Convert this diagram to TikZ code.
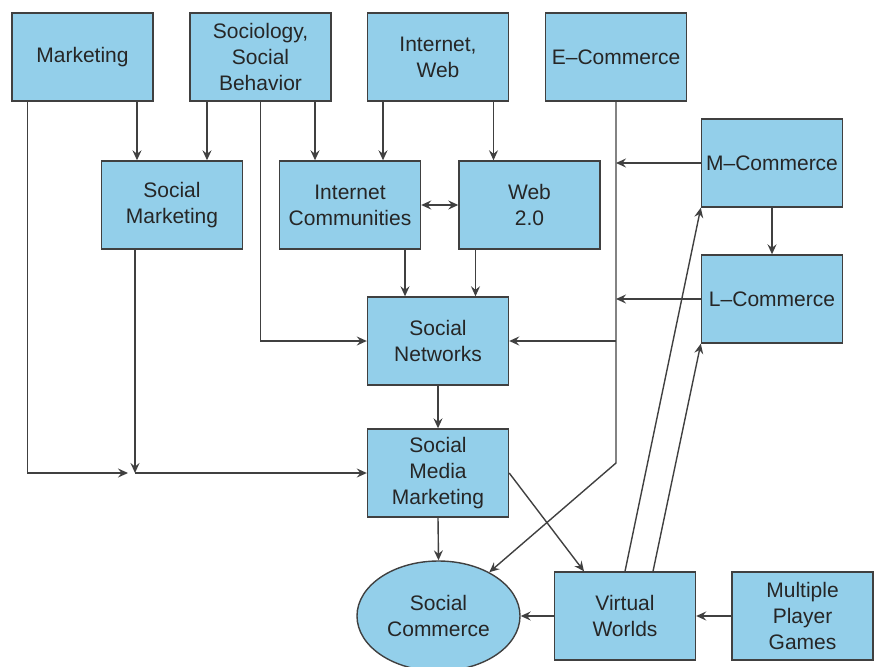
\documentclass[tikz,border=0pt]{standalone}
\usepackage{fontspec}
\setmainfont{Liberation Sans}
\usetikzlibrary{arrows.meta, shapes.geometric}
\definecolor{boxblue}{RGB}{147,207,234}
\definecolor{edgegray}{RGB}{64,64,64}
\begin{document}
\begin{tikzpicture}[x=1pt, y=-1pt,
  every node/.style={align=center, font=\fontsize{21}{26}\selectfont, text=black!85},
  box/.style={draw=edgegray, line width=1.4pt, fill=boxblue, minimum width=141pt, minimum height=88pt, inner sep=0pt},
  arr/.style={draw=edgegray, line width=1.4pt, -{Stealth[length=10pt, width=9pt, inset=3.5pt]}},
  arrboth/.style={draw=edgegray, line width=1.4pt, {Stealth[length=10pt, width=9pt, inset=3.5pt]}-{Stealth[length=10pt, width=9pt, inset=3.5pt]}}]
  \useasboundingbox (0, 0) rectangle (874, 666);

  % top row
  \node[box] (mkt) at (82.5, 57) {Marketing};
  \node[box] (soc) at (260.5, 57) {Sociology,\\Social\\Behavior};
  \node[box] (inet) at (438, 57) {Internet,\\Web};
  \node[box] (ecom) at (616, 57) {E--Commerce};

  % second row and right column
  \node[box] (smkt) at (172, 205) {Social\\Marketing};
  \node[box] (icom) at (350, 205) {Internet\\Communities};
  \node[box] (web) at (529.5, 205) {Web\\2.0};
  \node[box] (mcom) at (772, 163) {M--Commerce};
  \node[box] (lcom) at (772, 299) {L--Commerce};

  % middle column and bottom row
  \node[box] (snet) at (438, 341) {Social\\Networks};
  \node[box] (smm) at (438, 473) {Social\\Media\\Marketing};
  \node[box, ellipse, minimum width=163pt, minimum height=110pt] (scom) at (438.5, 616) {Social\\Commerce};
  \node[box] (vw) at (625, 616) {Virtual\\Worlds};
  \node[box] (mpg) at (802.5, 616) {Multiple\\Player\\Games};

  % top row feeds
  \draw[arr] ([xshift=-35pt]smkt.north |- mkt.south) -- ([xshift=-35pt]smkt.north);
  \draw[arr] ([xshift=35pt]smkt.north |- soc.south) -- ([xshift=35pt]smkt.north);
  \draw[arr] ([xshift=-35pt]icom.north |- soc.south) -- ([xshift=-35pt]icom.north);
  \draw[arr] ([xshift=33pt]icom.north |- inet.south) -- ([xshift=33pt]icom.north);
  \draw[arr] ([xshift=-36pt]web.north |- inet.south) -- ([xshift=-36pt]web.north);
  \draw[arrboth] (icom.east) -- (web.west);
  \draw[arr] ([xshift=55pt]icom.south) -- ([xshift=55pt]icom.south |- snet.north);
  \draw[arr] ([xshift=-54pt]web.south) -- ([xshift=-54pt]web.south |- snet.north);
  \draw[arr] (soc.south) |- (snet.west);

  % marketing feeds
  \coordinate (join) at ([xshift=-37pt]smkt.south |- smm.west);
  \draw[arr, shorten >=7pt] ([xshift=-55pt]mkt.south) |- (join);
  \draw[arr] ([xshift=-37pt]smkt.south) -- (join);
  \draw[arr] (join) -- (smm.west);

  % commerce trunk
  \coordinate (ebend) at (616, 463);
  \draw[arr] (ecom.south) -- (ebend) -- (scom);
  \draw[arr] (mcom.west) -- (mcom.west -| ecom.south);
  \draw[arr] (lcom.west) -- (lcom.west -| ecom.south);
  \draw[arr] (snet.east -| ecom.south) -- (snet.east);
  \draw[arr] (mcom.south) -- (lcom.north);

  % middle column and virtual worlds
  \draw[arr] (snet.south) -- (smm.north);
  \draw[arr] (smm.south) -- (scom.north);
  \draw[arr] (smm.east) -- ([xshift=-41pt]vw.north);
  \draw[arr] (vw.north) -- (mcom.south west);
  \draw[arr] ([xshift=28pt]vw.north) -- (lcom.south west);
  \draw[arr] (vw.west) -- (scom.east);
  \draw[arr] (mpg.west) -- (vw.east);
\end{tikzpicture}
\end{document}
